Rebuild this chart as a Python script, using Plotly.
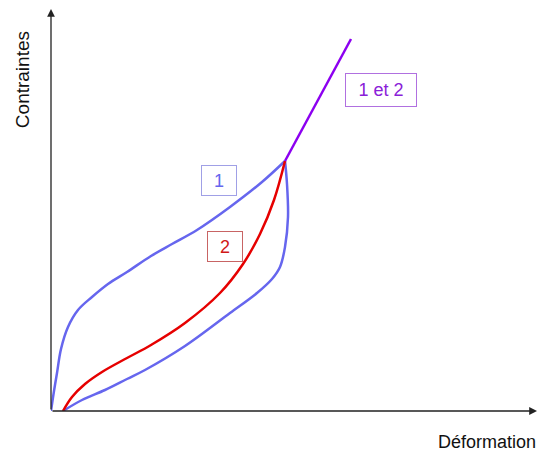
import plotly.graph_objects as go

# Curve 1, loading branch (upper part of the loop)
curve1_up_x = [0, 3, 6, 10, 17, 27, 41, 57, 76, 100, 121, 146, 179, 211, 234]
curve1_up_y = [0, 20, 38, 62, 84, 101, 114, 127, 139, 155, 167, 181, 204, 229, 250]

# Curve 1, lower branch (from the start up to the peak)
curve1_low_x = [12, 31, 54, 76, 94, 134, 179, 206, 221, 229, 234, 237, 236, 234]
curve1_low_y = [0, 11, 21, 32, 41, 65, 98, 118, 132, 144, 164, 194, 227, 250]

# Curve 2
curve2_x = [12, 21, 34, 51, 76, 100, 134, 169, 192, 209, 223, 234]
curve2_y = [0, 14, 27, 39, 53, 66, 88, 118, 147, 177, 211, 250]

# Common part "1 et 2"
common_x = [234, 300]
common_y = [250, 372]

BLUE = "#6666ee"
RED = "#e60000"
PURPLE = "#8c00f0"
AXIS = "#222222"

fig = go.Figure()

for xs, ys, color in [
    (curve1_up_x, curve1_up_y, BLUE),
    (curve1_low_x, curve1_low_y, BLUE),
    (curve2_x, curve2_y, RED),
]:
    fig.add_trace(go.Scatter(
        x=xs, y=ys, mode="lines",
        line=dict(color=color, width=2.5, shape="spline", smoothing=1.0),
        hoverinfo="skip",
    ))

fig.add_trace(go.Scatter(
    x=common_x, y=common_y, mode="lines",
    line=dict(color=PURPLE, width=2.5), hoverinfo="skip",
))

annotations = [
    # axes with arrowheads
    dict(x=486, y=0, ax=0, ay=0, xref="x", yref="y", axref="x", ayref="y",
         showarrow=True, arrowhead=2, arrowsize=1.2, arrowwidth=1.3,
         arrowcolor=AXIS, text=""),
    dict(x=0, y=402, ax=0, ay=0, xref="x", yref="y", axref="x", ayref="y",
         showarrow=True, arrowhead=2, arrowsize=1.2, arrowwidth=1.3,
         arrowcolor=AXIS, text=""),
    # axis titles
    dict(x=-0.0575, y=0.821, xref="paper", yref="paper", text="Contraintes",
         xanchor="center", yanchor="middle",
         showarrow=False, textangle=-90, font=dict(size=19, color="#111111")),
    dict(x=0.865, y=-0.077, xref="paper", yref="paper", text="Déformation",
         xanchor="center", yanchor="middle",
         showarrow=False, font=dict(size=18, color="#111111")),
    # boxed labels
    dict(x=168, y=230.5, xref="x", yref="y", text="1", showarrow=False,
         font=dict(size=18, color=BLUE), bordercolor="#a0a0e6", borderwidth=1,
         borderpad=0, width=34, height=29, bgcolor="white"),
    dict(x=174, y=164.5, xref="x", yref="y", text="2", showarrow=False,
         font=dict(size=18, color="#d01818"), bordercolor="#c86464", borderwidth=1,
         borderpad=0, width=34, height=29, bgcolor="white"),
    dict(x=330, y=321, xref="x", yref="y", text="1 et 2", showarrow=False,
         font=dict(size=18, color="#8a20d8"), bordercolor="#b070e0", borderwidth=1,
         borderpad=0, width=70, height=32, bgcolor="white"),
]

fig.update_layout(
    width=547,
    height=455,
    margin=dict(l=43, r=0, t=0, b=52),
    paper_bgcolor="white",
    plot_bgcolor="white",
    showlegend=False,
    font=dict(family="Liberation Sans, Arial, sans-serif"),
    annotations=annotations,
)
fig.update_xaxes(visible=False, range=[0, 504], fixedrange=True)
fig.update_yaxes(visible=False, range=[0, 403], fixedrange=True)

fig.write_html("out.html")
